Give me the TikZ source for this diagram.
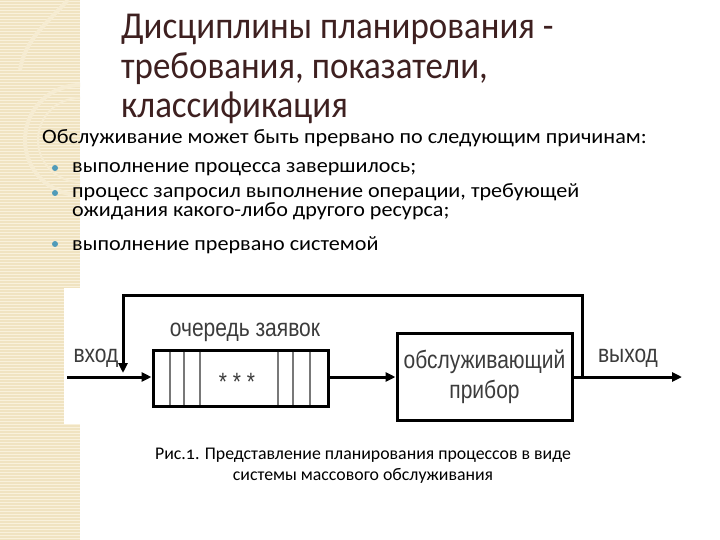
\documentclass[tikz,border=0pt]{standalone}
\usepackage{fontspec}
\setmainfont{Carlito}
\newfontfamily\titlefont[FakeStretch=0.92]{Carlito}
\newfontfamily\bodyfont[FakeStretch=1.08]{Carlito}
\newfontfamily\capfont[Numbers=OldStyle]{Carlito}
\newfontfamily\diagfont[FakeStretch=0.84]{Liberation Sans}
\usetikzlibrary{arrows.meta}
\definecolor{stripe}{RGB}{240,227,193}
\definecolor{stripeline}{RGB}{249,241,220}
\definecolor{stripedeco}{RGB}{246,236,210}
\definecolor{titlecol}{RGB}{62,32,32}
\definecolor{bulletcol}{RGB}{80,155,185}
\definecolor{labelgrey}{RGB}{60,60,60}
\definecolor{slotgrey}{RGB}{120,120,120}
\tikzset{
  txt/.style={anchor=base west, inner sep=0pt},
  titletxt/.style={txt, text=titlecol, font=\titlefont\fontsize{38}{40}\selectfont},
  bodytxt/.style={txt, font=\bodyfont\fontsize{20.5}{19}\selectfont},
  bul/.style={fill=bulletcol, circle, inner sep=0pt, minimum size=6pt},
  blockbox/.style={draw=black, line width=3pt, fill=white, inner sep=0pt},
  dlabel/.style={inner sep=0pt, text=labelgrey, font=\diagfont\fontsize{25}{30}\selectfont},
  flow/.style={line width=3pt},
  arr/.style={flow, -{Triangle[length=10pt,width=9pt]}},
  slot/.style={slotgrey, line width=1.5pt},
  captxt/.style={inner sep=0pt, font=\capfont\fontsize{17.8}{21}\selectfont, align=center}
}
\begin{document}
\begin{tikzpicture}[x=1pt,y=-1pt]
\useasboundingbox (0,0) rectangle (720,540);
\fill[white] (0,0) rectangle (720,540);
% decorative left stripe
\fill[stripe] (0,0) rectangle (80,540);
\foreach \yy in {1,4,...,540} \draw[stripeline, line width=0.9pt] (0,\yy) -- (80,\yy);
\begin{scope}
\clip (0,0) rectangle (80,540);
\draw[stripedeco, line width=4pt] (68,0) .. controls (45,25) and (25,40) .. (20,70);
\draw[stripedeco, line width=4pt] (80,140) circle (55);
\draw[stripedeco, line width=2pt] (80,140) circle (42);
\end{scope}
% white ground of the figure
\fill[white] (64,288) rectangle (600,424);

% title
\node[titletxt] (t1) at (121,39) {Дисциплины планирования -};
\node[titletxt] (t2) at (121,79) {требования, показатели,};
\node[titletxt] (t3) at (121,118) {классификация};

% body
\node[bodytxt] (b0) at (42,144) {Обслуживание может быть прервано по следующим причинам:};
\node[bul] (p1) at (55,168) {};
\node[bodytxt] (b1) at (72,173) {выполнение процесса завершилось;};
\node[bul] (p2) at (55,193) {};
\node[bodytxt, align=left] (b2) at (72,217) {процесс запросил выполнение операции, требующей\\ожидания какого-либо другого ресурса;};
\node[bul] (p3) at (55,244) {};
\node[bodytxt] (b3) at (72,250) {выполнение прервано системой};

% diagram
\node[blockbox, minimum width=175pt, minimum height=56pt] (queue) at (240.5,378) {};
\foreach \xx in {170,184,200,278,293,310}
  \draw[slot] (\xx,351.5) -- (\xx,404.5);
\node[dlabel] (stars) at (237,382) {* * *};
\node[dlabel] (qlab) at (245,332) {очередь заявок};
\node[blockbox, minimum width=175pt, minimum height=87pt, align=center, text=labelgrey,
      font=\diagfont\fontsize{25}{30}\selectfont] (server) at (484.5,376.5) {обслуживающий\\прибор};
\node[dlabel] (inlab) at (96,358) {вход};
\node[dlabel] (outlab) at (628,358) {выход};
\coordinate (inL) at (67,377);
\coordinate (fbJ) at (123,377);
\coordinate (fbTL) at (123,295);
\coordinate (fbTR) at (582,295);
\coordinate (fbR) at (582,377);
\coordinate (outE) at (682,377);
\draw[arr] (inL) -- (queue.west |- inL);
\draw[arr] (queue.east |- inL) -- (server.west |- inL);
\draw[arr] (server.east |- inL) -- (outE);
\draw[arr, shorten >=4pt] (fbR) -- (fbTR) -- (fbTL) -- (fbJ);

% caption
\node[captxt] (cap) at (363,466) {Рис.1. Представление планирования процессов в виде\\системы массового обслуживания};
\end{tikzpicture}
\end{document}
